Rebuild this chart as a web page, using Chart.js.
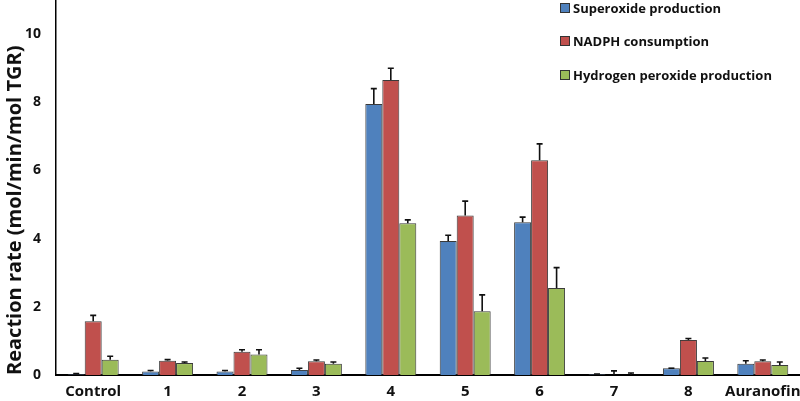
<!DOCTYPE html>
<html>
<head>
<meta charset="utf-8">
<script src="https://cdn.jsdelivr.net/npm/chart.js@4.4.0/dist/chart.umd.min.js"></script>
<style>
  html, body { margin: 0; padding: 0; background: #fff; }
  #wrap { position: relative; width: 800px; height: 401px; }
  #legend { position: absolute; left: 560px; top: -1px; font-family: "Open Sans", sans-serif; font-weight: bold; font-size: 13px; color: #111; }
  #legend div { position: absolute; white-space: nowrap; display: flex; align-items: center; }
  #legend span.box { display: inline-block; width: 8px; height: 8px; border: 1px solid #333; margin-right: 3px; }
</style>
</head>
<body>
<div id="wrap">
  <canvas id="bgChart" width="800" height="401"></canvas>
  <div id="legend"></div>
</div>
<script>
const categories = ['Control', '1', '2', '3', '4', '5', '6', '7', '8', 'Auranofin'];
const seriesNames = ['Superoxide production', 'NADPH consumption', 'Hydrogen peroxide production'];
const seriesColors = ['#4F81BD', '#C0504D', '#9BBB59'];

const superoxide = [0.02, 0.10, 0.10, 0.15, 7.95, 3.93, 4.48, 0.02, 0.20, 0.33];
const superoxideErr = [0.02, 0.03, 0.03, 0.05, 0.45, 0.17, 0.15, 0.01, 0.00, 0.09];
const nadph = [1.58, 0.42, 0.68, 0.40, 8.65, 4.68, 6.30, 0.00, 1.03, 0.40];
const nadphErr = [0.17, 0.03, 0.06, 0.04, 0.35, 0.42, 0.48, 0.12, 0.04, 0.04];
const peroxide = [0.45, 0.35, 0.60, 0.33, 4.45, 1.87, 2.55, 0.00, 0.41, 0.29];
const peroxideErr = [0.10, 0.03, 0.14, 0.05, 0.10, 0.48, 0.60, 0.06, 0.09, 0.09];

const yTicks = [0, 2, 4, 6, 8, 10];

const errs = [superoxideErr, nadphErr, peroxideErr];
const values = [superoxide, nadph, peroxide];

// error bars, upward only with a cap
const errorBars = {
    id: 'errorBars',
    afterDatasetsDraw(chart) {
        const ctx = chart.ctx;
        const y = chart.scales.y;
        ctx.save();
        ctx.strokeStyle = '#111';
        ctx.lineWidth = 1.6;
        chart.data.datasets.forEach((ds, i) => {
            const meta = chart.getDatasetMeta(i);
            meta.data.forEach((bar, j) => {
                const top = y.getPixelForValue(values[i][j] + errs[i][j]);
                ctx.beginPath();
                ctx.moveTo(bar.x, bar.y);
                ctx.lineTo(bar.x, top);
                ctx.moveTo(bar.x - 3, top);
                ctx.lineTo(bar.x + 3, top);
                ctx.stroke();
            });
        });
        ctx.restore();
    }
};

const ctxs = document.getElementById('bgChart').getContext('2d');

const datas = {
    labels: categories,
    datasets: values.map((v, i) => ({
        label: seriesNames[i],
        data: v,
        backgroundColor: seriesColors[i],
        borderColor: '#3a3a3a',
        borderWidth: 1,
        barPercentage: 1,
        categoryPercentage: 0.685
    }))
};

const configs = {
    type: 'bar',
    data: datas,
    options: {
        responsive: false,
        animation: { duration: 0 },
        layout: { padding: 0 },
        scales: {
            x: {
                grid: { display: false, drawTicks: false },
                border: { color: '#000', width: 2 },
                ticks: {
                    color: '#111',
                    padding: 8,
                    autoSkip: false,
                    maxRotation: 0,
                    minRotation: 0,
                    font: { family: 'Open Sans', weight: 'bold', size: 15 }
                },
                afterFit(scale) { scale.height = 26; scale.paddingLeft = 0; scale.paddingRight = 0; }
            },
            y: {
                min: 0,
                max: 11,
                grid: { display: false, drawOnChartArea: false, drawTicks: true, tickLength: 6, color: '#000' },
                border: { color: '#000', width: 1.5 },
                afterBuildTicks(scale) { scale.ticks = yTicks.map(v => ({ value: v })); },
                ticks: {
                    color: '#111',
                    padding: 9,
                    font: { family: 'Open Sans', weight: 'bold', size: 14 }
                },
                title: {
                    display: true,
                    align: 'start',
                    text: 'Reaction rate (mol/min/mol TGR)',
                    color: '#111',
                    padding: { top: 3, bottom: 2 },
                    font: { family: 'Open Sans', weight: 'bold', size: 20 }
                },
                afterFit(scale) { scale.width = 56; scale.paddingTop = 0; scale.paddingBottom = 0; }
            }
        },
        plugins: {
            legend: { display: false },
            tooltip: { enabled: false }
        }
    },
    plugins: [errorBars]
};

new Chart(ctxs, configs);

// legend, stacked top right
const legendTops = [0, 33, 67];
const lg = document.getElementById('legend');
seriesNames.forEach((name, i) => {
    const d = document.createElement('div');
    d.style.top = legendTops[i] + 'px';
    d.innerHTML = '<span class="box" style="background:' + seriesColors[i] + '"></span>' + name;
    lg.appendChild(d);
});
</script>
</body>
</html>
